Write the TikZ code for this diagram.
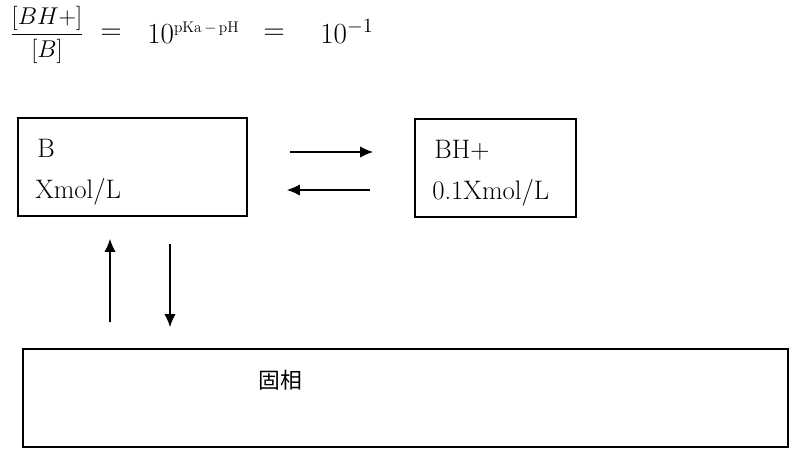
\documentclass[tikz,border=0pt]{standalone}
\usepackage{amsmath}
\usepackage{fontspec}
\newfontfamily\cjk{Noto Sans CJK SC}
\usetikzlibrary{arrows.meta,positioning}

\begin{document}
\begin{tikzpicture}[
    x=0.025cm, y=-0.025cm,
    box/.style={draw, line width=1pt, minimum height=2.45cm, inner sep=0pt},
    label/.style={font=\fontsize{19}{22}\selectfont, anchor=base west, inner sep=0pt},
    formula/.style={font=\fontsize{20}{23}\selectfont, inner sep=0pt},
    flow/.style={-{Latex[length=3.2mm,width=2.8mm]}, line width=0.8pt},
    >=Latex
  ]
    \useasboundingbox (0,0) rectangle (800,455);
    % ratio formula
    \node[formula, font=\fontsize{17}{20}\selectfont] (ratio) at (47,35) {$\dfrac{[BH{+}]}{[B]}$};
    \node[formula] (eqA) at (111,34) {$=$};
    \node[formula, anchor=base west] (power) at (147,43) {$10^{\mbox{\fontsize{11}{13}\selectfont pKa\,$-$\,pH}}$};
    \node[formula] (eqB) at (274,34) {$=$};
    \node[formula, anchor=base west] (value) at (320,43) {$10^{-1}$};
    % boxes
    \node[box, minimum width=5.725cm] (base) at (132.5,167) {};
    \node[box, minimum width=4.025cm] (acid) at (495.5,168) {};
    \node[box, minimum width=19.125cm] (solid) at (405.5,398) {};
    \node[label] (baseName) at (37,157) {B};
    \node[label] (baseConc) at (35,198) {Xmol/L};
    \node[label] (acidName) at (434,158) {BH+};
    \node[label] (acidConc) at (432,199) {0.1Xmol/L};
    \node[label, font=\cjk\fontsize{15.5}{18}\selectfont] (solidName) at (258,388) {固相};
    % arrow ends
    \coordinate (fwdA) at (290,152);
    \coordinate (fwdB) at (373,152);
    \coordinate (revA) at (370,190);
    \coordinate (revB) at (287,190);
    \coordinate (upA) at (110,322);
    \coordinate (upB) at (110,239);
    \coordinate (downA) at (170,244);
    \coordinate (downB) at (170,327);
    \draw[flow] (fwdA) -- (fwdB);
    \draw[flow] (revA) -- (revB);
    \draw[flow] (upA) -- (upB);
    \draw[flow] (downA) -- (downB);
  \end{tikzpicture}
\end{document}
